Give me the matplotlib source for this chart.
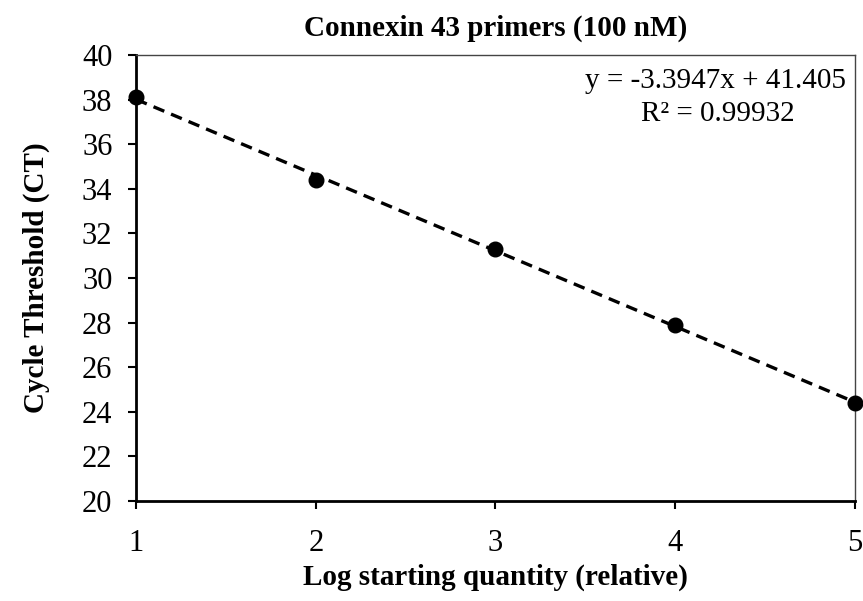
import numpy as np
import matplotlib.pyplot as plt

plt.rcParams['font.family'] = ['Liberation Serif', 'DejaVu Serif']

# qPCR standard curve data
log_qty = [1, 2, 3, 4, 5]
ct_vals = [38.1, 34.4, 31.3, 27.9, 24.4]
slope = -3.3947
intercept = 41.405
r2 = 0.99932

fig = plt.figure(figsize=(8.63, 6.01), dpi=100)
ax = fig.add_axes([0.1576, 0.1664, 0.8331, 0.7421])

xfit = np.array([log_qty[0], log_qty[-1]])
ax.plot(xfit, slope * xfit + intercept, color='black', lw=2.4,
        linestyle=(0, (3.5, 2.2)), zorder=2)
ax.plot(log_qty, ct_vals, 'o', color='black', markersize=10.5, zorder=3,
        clip_on=False)

ax.set_xlim(1, 5)
ax.set_ylim(20, 40)
ax.set_xticks([1, 2, 3, 4, 5])
ax.set_yticks(np.arange(20, 41, 2))
ax.tick_params(axis='both', labelsize=22, direction='out', length=6, width=1.5)
ax.tick_params(axis='x', pad=14)
ax.tick_params(axis='y', pad=11)

for side in ['left', 'bottom']:
    ax.spines[side].set_linewidth(2)
for side in ['top', 'right']:
    ax.spines[side].set_linewidth(1)
    ax.spines[side].set_color('#444444')

ax.set_title('Connexin 43 primers (100 nM)', fontsize=21, fontweight='bold', pad=14)
ax.set_xlabel('Log starting quantity (relative)', fontsize=21, fontweight='bold')
ax.set_ylabel('Cycle Threshold (CT)', fontsize=21, fontweight='bold')
ax.xaxis.set_label_coords(0.5, -0.14)
ax.yaxis.set_label_coords(-0.12, 0.5)

ax.text(0.988, 0.971, f'y = {slope}x + {intercept}', transform=ax.transAxes,
        ha='right', va='top', fontsize=21)
ax.text(0.809, 0.896, f'R² = {r2}', transform=ax.transAxes,
        ha='center', va='top', fontsize=21)

fig.savefig('out.png', dpi=100)
